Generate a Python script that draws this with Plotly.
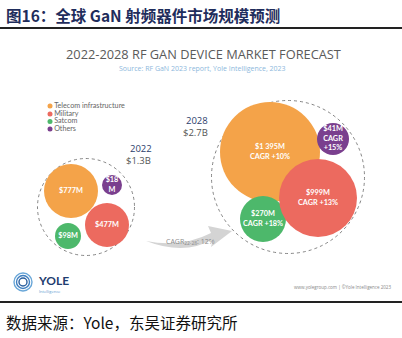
import plotly.graph_objects as go

# ---------------- data ----------------
categories = ["Telecom infrastructure", "Military", "Satcom", "Others"]
values_2022 = [777, 477, 98, 18]
values_2028 = [1395, 999, 270, 41]
cagr_2028 = [10, 13, 18, 15]
years = ["2022", "2028"]
totals = ["$1.3B", "$2.7B"]
overall_cagr = 12

# ---------------- layout / style ----------------
colors = ["#F4A349", "#EC6A5F", "#4DB86B", "#7A3F8E"]
pos_2022 = [(71, 191), (107, 225), (68, 236), (112, 185)]
diam_2022 = [54, 44, 26, 20]
pos_2028 = [(270, 152), (318, 198), (263, 219), (333, 139)]
diam_2028 = [100, 78, 46, 32]
draw_order = [0, 2, 1, 3]

W, H = 402, 338
fig = go.Figure()

shapes = []
# dashed outer circles
for cx, cy, r in [(86, 207, 48.5), (288, 177, 76.5)]:
    shapes.append(dict(type="circle", xref="x", yref="y", x0=cx - r, x1=cx + r, y0=cy - r, y1=cy + r,
                       line=dict(color="#666666", width=0.8, dash="dot"), layer="below"))

def label_2022(i):
    v = values_2022[i]
    if categories[i] == "Others":
        return f"<b>${v}<br>M</b>"
    return f"<b>${v}M</b>"

def label_2028(i):
    v = values_2028[i]
    vs = f"{v:,}".replace(",", " ")
    if categories[i] == "Others":
        return f"<b>${vs}M<br>CAGR<br>+{cagr_2028[i]}%</b>"
    return f"<b>${vs}M<br>CAGR +{cagr_2028[i]}%</b>"

for i in draw_order:
    fig.add_trace(go.Scatter(
        x=[pos_2022[i][0]], y=[pos_2022[i][1]], mode="markers+text",
        marker=dict(size=diam_2022[i], color=colors[i], line=dict(width=0), opacity=1),
        text=[label_2022(i)], textposition="middle center",
        textfont=dict(family="Lato, Open Sans, sans-serif", size=7.3, color="white"),
        hoverinfo="skip", showlegend=False))
for i in draw_order:
    fig.add_trace(go.Scatter(
        x=[pos_2028[i][0]], y=[pos_2028[i][1]], mode="markers+text",
        marker=dict(size=diam_2028[i], color=colors[i], line=dict(width=0), opacity=1),
        text=[label_2028(i)], textposition="middle center",
        textfont=dict(family="Lato, Open Sans, sans-serif", size=7.3, color="white"),
        hoverinfo="skip", showlegend=False))

# legend (manual, dots + labels)
leg_y = [106, 114, 121.5, 129]
fig.add_trace(go.Scatter(
    x=[50] * 4, y=leg_y, mode="markers+text",
    marker=dict(size=5, color=colors, line=dict(width=0)),
    text=categories, textposition="middle right",
    textfont=dict(family="Lato, Open Sans, sans-serif", size=7.2, color="#666666"),
    hoverinfo="skip", showlegend=False))

# curved arrow
shapes.append(dict(type="path", xref="x", yref="y",
                   path="M 146,241 Q 185,256 213,239 L 211,247 L 232,231 L 208,226 L 211,233 Q 182,248 146,241 Z",
                   fillcolor="#d4d4d4", line=dict(width=0), layer="below"))

# header / footer rules
shapes.append(dict(type="line", xref="x", yref="y", x0=0, x1=W, y0=28, y1=28, line=dict(color="#222222", width=2)))
shapes.append(dict(type="line", xref="x", yref="y", x0=0, x1=W, y0=302, y1=302, line=dict(color="#222222", width=2)))

# Yole logo (approximation)
for r, c in [(9, "#6aa7d8"), (6.5, "#3f7fc0"), (4, "#2a5f9e")]:
    shapes.append(dict(type="circle", xref="x", yref="y", x0=23 - r, x1=23 + r, y0=282 - r, y1=282 + r,
                       line=dict(color=c, width=1.4)))

annotations = [
    dict(x=4, y=15, text="<b>图16：全球 GaN 射频器件市场规模预测</b>", xanchor="left", yanchor="middle",
         font=dict(family="Noto Sans CJK SC", size=15.5, color="#1f2d5c")),
    dict(x=203, y=54, text="2022-2028 RF GAN DEVICE MARKET FORECAST", xanchor="center", yanchor="middle",
         font=dict(family="Open Sans, sans-serif", size=12.8, color="#5a5a5a")),
    dict(x=202, y=68.5, text="Source: RF GaN 2023 report, Yole Intelligence, 2023", xanchor="center", yanchor="middle",
         font=dict(family="Open Sans, sans-serif", size=7, color="#8db8dc")),
    dict(x=141, y=148, text=years[0], xanchor="center", yanchor="middle",
         font=dict(family="Open Sans, sans-serif", size=9.5, color="#2c3e6b")),
    dict(x=138, y=160.5, text=totals[0], xanchor="center", yanchor="middle",
         font=dict(family="Open Sans, sans-serif", size=9.5, color="#555555")),
    dict(x=197, y=120, text=years[1], xanchor="center", yanchor="middle",
         font=dict(family="Open Sans, sans-serif", size=9.5, color="#2c3e6b")),
    dict(x=195, y=132.5, text=totals[1], xanchor="center", yanchor="middle",
         font=dict(family="Open Sans, sans-serif", size=9.5, color="#555555")),
    dict(x=190, y=241, text=f"CAGR<sub>22-28</sub>: {overall_cagr}%", xanchor="center", yanchor="middle",
         font=dict(family="Open Sans, sans-serif", size=7, color="#8a8a8a")),
    dict(x=36, y=280, text="<b>YOLE</b>", xanchor="left", yanchor="middle",
         font=dict(family="Lato, Open Sans, sans-serif", size=12, color="#1f3d70")),
    dict(x=37, y=291, text="Intelligence", xanchor="left", yanchor="middle",
         font=dict(family="Open Sans, sans-serif", size=4, color="#5a9ad0")),
    dict(x=393, y=286.5, text="www.yolegroup.com | ©Yole Intelligence 2023", xanchor="right", yanchor="middle",
         font=dict(family="Open Sans, sans-serif", size=4.5, color="#888888")),
    dict(x=4, y=322, text="数据来源：Yole，东吴证券研究所", xanchor="left", yanchor="middle",
         font=dict(family="Noto Sans CJK SC", size=15.5, color="#111111")),
]
for a in annotations:
    a.update(xref="x", yref="y", showarrow=False)

fig.update_layout(
    width=W, height=H, autosize=False,
    margin=dict(l=0, r=0, t=0, b=0, pad=0),
    paper_bgcolor="white", plot_bgcolor="white",
    xaxis=dict(range=[0, W], visible=False, fixedrange=True),
    yaxis=dict(range=[H, 0], visible=False, fixedrange=True),
    shapes=shapes, annotations=annotations, showlegend=False,
)
fig.write_html("out.html", config={"displayModeBar": False})
